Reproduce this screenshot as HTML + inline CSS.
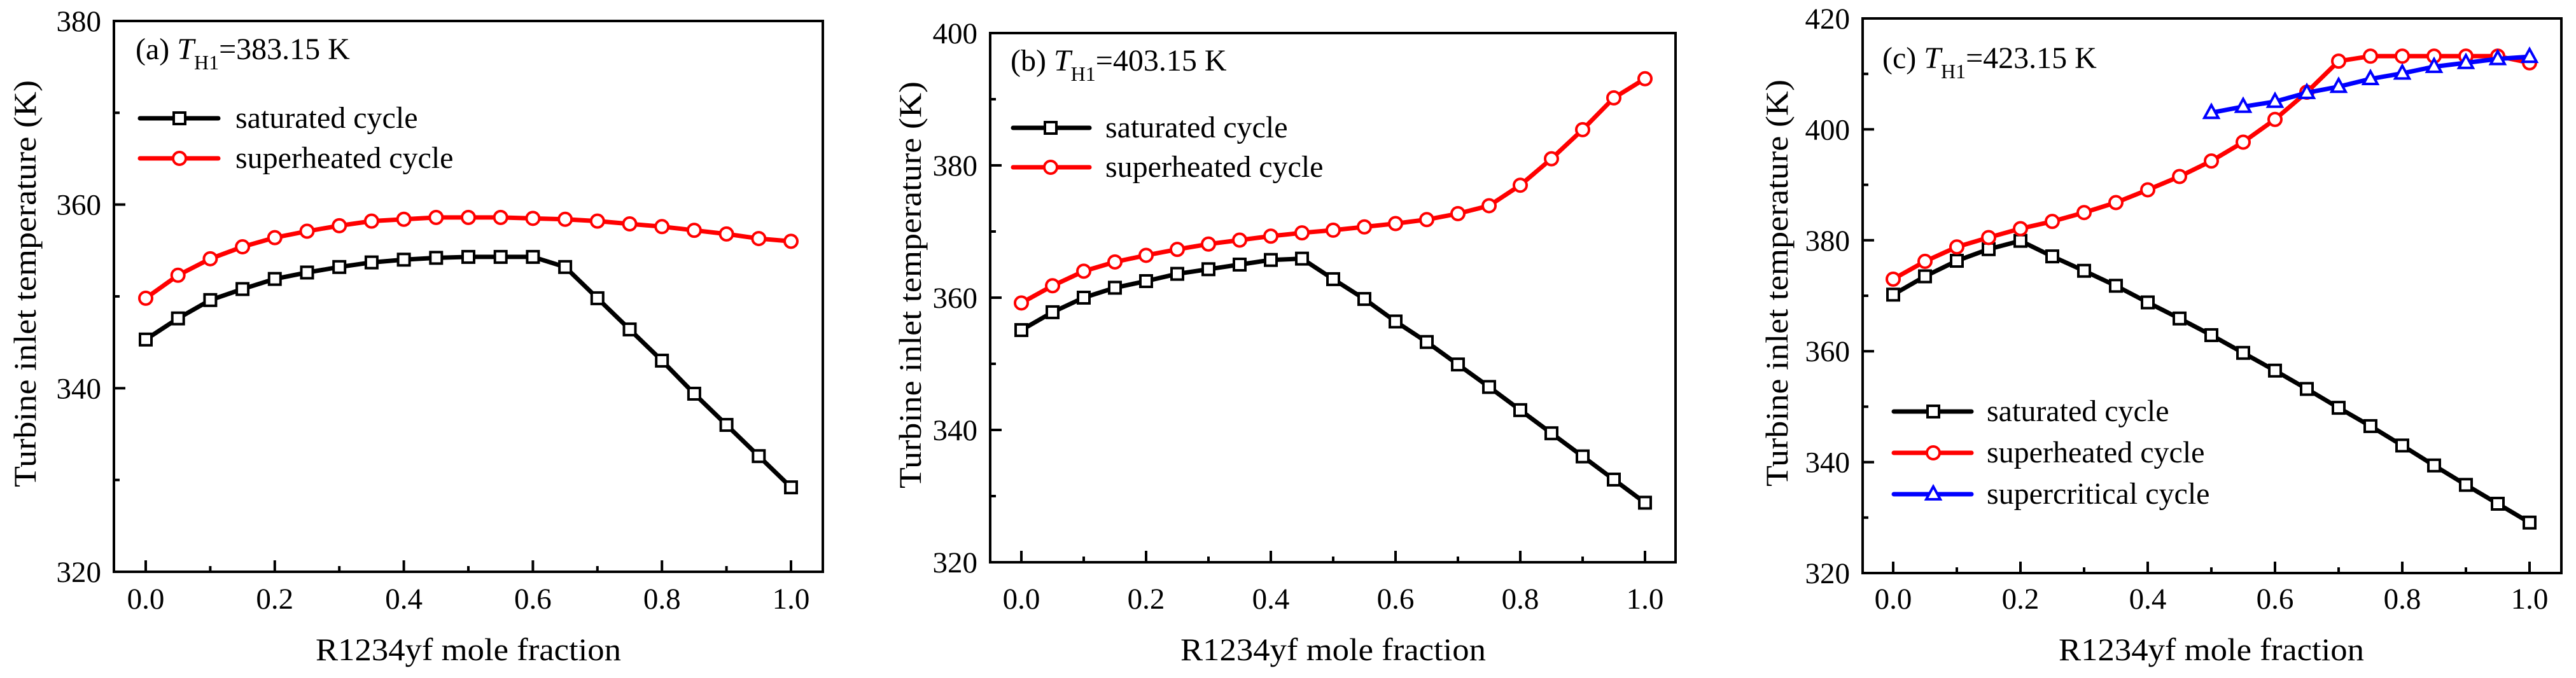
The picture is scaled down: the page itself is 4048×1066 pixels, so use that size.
<!DOCTYPE html>
<html><head><meta charset="utf-8"><style>
body{margin:0;background:#fff}
svg{display:block}
svg text{font-family:"Liberation Serif","Times New Roman","DejaVu Serif",serif;fill:#000}
</style></head><body>
<svg id="fig" width="4048" height="1066" viewBox="0 0 4048 1066" xmlns="http://www.w3.org/2000/svg" font-family="Liberation Serif, Times New Roman, DejaVu Serif, serif"></svg>
<script>
const xFractions = [0,0.05,0.1,0.15,0.2,0.25,0.3,0.35,0.4,0.45,0.5,0.55,0.6,0.65,0.7,0.75,0.8,0.85,0.9,0.95,1.0];
const xFractionsSC = [0.5,0.55,0.6,0.65,0.7,0.75,0.8,0.85,0.9,0.95,1.0];
const satA = [345.3,347.6,349.6,350.8,351.9,352.6,353.2,353.7,354.0,354.2,354.3,354.3,354.3,353.2,349.8,346.4,343.0,339.4,336.0,332.6,329.2];
const supA = [349.8,352.3,354.1,355.4,356.4,357.1,357.7,358.2,358.4,358.6,358.6,358.6,358.5,358.4,358.2,357.9,357.6,357.2,356.8,356.3,356.0];
const satB = [355.1,357.8,360.0,361.5,362.5,363.6,364.3,365.0,365.7,365.9,362.8,359.8,356.4,353.3,349.9,346.5,343.0,339.5,336.0,332.5,329.0];
const supB = [359.2,361.8,364.0,365.4,366.4,367.3,368.1,368.7,369.3,369.8,370.2,370.7,371.2,371.8,372.7,373.9,377.0,381.0,385.4,390.2,393.1];
const satC = [370.2,373.5,376.3,378.4,379.9,377.1,374.5,371.8,368.8,365.9,362.9,359.7,356.5,353.2,349.8,346.5,343.0,339.4,335.9,332.5,329.1];
const supC = [373.0,376.2,378.8,380.5,382.1,383.4,385.0,386.8,389.1,391.5,394.3,397.7,401.8,406.7,412.3,413.2,413.2,413.2,413.2,413.2,412.0];
const scC = [403.0,404.1,405.0,406.6,407.7,409.1,410.1,411.3,412.0,412.7,413.1];
const xTickLabels = ["0.0","0.2","0.4","0.6","0.8","1.0"];
const yTicksA = [320,340,360,380];
const yTicksB = [320,340,360,380,400];
const yTicksC = [320,340,360,380,400,420];

const NS="http://www.w3.org/2000/svg";
const FONT="Liberation Serif, Times New Roman, DejaVu Serif, serif";
const svg=document.getElementById('fig');
function mk(tag,attrs,parent){const e=document.createElementNS(NS,tag);for(const k in attrs)e.setAttribute(k,attrs[k]);if(tag==='text')e.setAttribute('font-family',FONT);(parent||svg).appendChild(e);return e;}

const panels=[
 {id:'a',fl:179,fr:1293,top:33,bot:899,x0:229,x1:1243,ymin:320,ymax:380,yt:yTicksA,title:'383.15',ax:213,ay:93,ytx:39,
  series:[{n:'saturated',x:xFractions,y:satA,c:'#000',m:'sq'},{n:'superheated',x:xFractions,y:supA,c:'#f00',m:'ci'}],
  leg:{l0:220,l1:343,mx:282,tx:370,ys:[186,249]}},
 {id:'b',fl:1556,fr:2633,top:52,bot:884,x0:1605,x1:2585,ymin:320,ymax:400,yt:yTicksB,title:'403.15',ax:1588,ay:111,ytx:1430,
  series:[{n:'saturated',x:xFractions,y:satB,c:'#000',m:'sq'},{n:'superheated',x:xFractions,y:supB,c:'#f00',m:'ci'}],
  leg:{l0:1592,l1:1712,mx:1651,tx:1737,ys:[201,263]}},
 {id:'c',fl:2927,fr:4025,top:29,bot:901,x0:2975,x1:3975,ymin:320,ymax:420,yt:yTicksC,title:'423.15',ax:2958,ay:107,ytx:2792,
  series:[{n:'saturated',x:xFractions,y:satC,c:'#000',m:'sq'},{n:'superheated',x:xFractions,y:supC,c:'#f00',m:'ci'},{n:'supercritical',x:xFractionsSC,y:scC,c:'#00f',m:'tr'}],
  leg:{l0:2976,l1:3098,mx:3038,tx:3122,ys:[647,712,777]}}
];

function marker(g,type,cx,cy,color){
  let e;
  if(type==='sq'){e=mk('rect',{x:cx-9,y:cy-9,width:18,height:18,fill:'#fff',stroke:color,'stroke-width':4},g);}
  else if(type==='ci'){e=mk('circle',{cx:cx,cy:cy,r:10,fill:'#fff',stroke:color,'stroke-width':4},g);}
  else {e=mk('polygon',{points:`${cx},${cy-12} ${cx-11},${cy+8} ${cx+11},${cy+8}`,fill:'#fff',stroke:color,'stroke-width':4},g);}
  
  
}

panels.forEach(p=>{
  const g=mk('g',{});
  
  
  const sx=v=>p.x0+(p.x1-p.x0)*v;
  const sy=v=>p.bot-(v-p.ymin)/(p.ymax-p.ymin)*(p.bot-p.top);
  for(let i=0;i<=10;i++){
    const v=i/10, x=sx(v), major=i%2===0;
    const t=mk('line',{x1:x,x2:x,y1:p.bot,y2:p.bot-(major?18:9),stroke:'#000','stroke-width':4},g);
    
    
    if(major){
      const l=mk('text',{x:x,y:957,'font-size':47,'text-anchor':'middle'},g);
      l.textContent=xTickLabels[i/2];
      
      
    }
  }
  for(let v=p.ymin; v<=p.ymax; v+=10){
    const y=sy(v), major=(v%20===0);
    const t=mk('line',{x1:p.fl,x2:p.fl+(major?18:9),y1:y,y2:y,stroke:'#000','stroke-width':4},g);
    
    
  }
  p.yt.forEach(v=>{
    const l=mk('text',{x:p.fl-20,y:sy(v)+16,'font-size':47,'text-anchor':'end'},g);
    l.textContent=String(v);
    
    
  });
  p.series.forEach(s=>{
    const pts=s.x.map((xv,i)=>sx(xv)+','+sy(s.y[i])).join(' ');
    const pl=mk('polyline',{points:pts,fill:'none',stroke:s.c,'stroke-width':7,'stroke-linejoin':'round'},g);
    
    
    s.x.forEach((xv,i)=>marker(g,s.m,sx(xv),sy(s.y[i]),s.c));
  });
  const fr=mk('rect',{x:p.fl,y:p.top,width:p.fr-p.fl,height:p.bot-p.top,fill:'none',stroke:'#000','stroke-width':4},g);
  
  
  p.series.forEach((s,i)=>{
    const y=p.leg.ys[i];
    const ln=mk('line',{x1:p.leg.l0,x2:p.leg.l1,y1:y,y2:y,stroke:s.c,'stroke-width':7,'stroke-linecap':'round'},g);
    
    
    marker(g,s.m,p.leg.mx,y,s.c);
    const t=mk('text',{x:p.leg.tx,y:y+15,'font-size':48},g);
    t.textContent=s.n+' cycle';
    
    
  });
  const an=mk('text',{x:p.ax,y:p.ay,'font-size':48},g);
  an.innerHTML=`(${p.id}) <tspan font-style="italic">T</tspan><tspan font-size="32" dy="16">H1</tspan><tspan dy="-16">=${p.title} K</tspan>`;
  
  
  const xt=mk('text',{x:(p.x0+p.x1)/2,y:1038,'font-size':50,'text-anchor':'middle',textLength:480,lengthAdjust:'spacingAndGlyphs'},g);
  xt.textContent='R1234yf mole fraction';
  
  
  const cy=(p.top+p.bot)/2-20;
  const yt=mk('text',{x:0,y:0,'font-size':50,'text-anchor':'middle',textLength:640,lengthAdjust:'spacingAndGlyphs',transform:`translate(${p.ytx+17},${cy}) rotate(-90)`},g);
  yt.textContent='Turbine inlet temperature (K)';
  
  
});
</script>
</body></html>
